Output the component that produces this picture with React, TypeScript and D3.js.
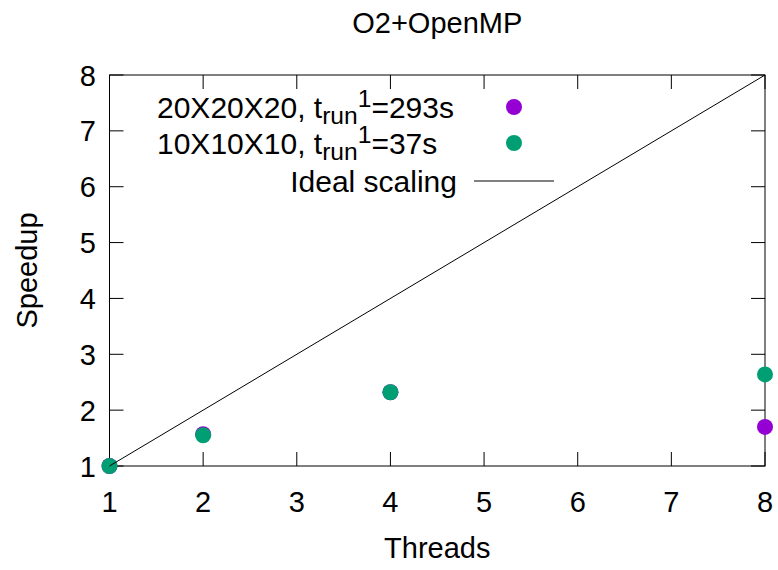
import React from "react";
import * as d3 from "d3";

const threads = [1, 2, 4, 8];
const speedup20 = [1.0, 1.57, 2.32, 1.7];
const speedup10 = [1.0, 1.55, 2.32, 2.64];
const xTicks = [1, 2, 3, 4, 5, 6, 7, 8];
const yTicks = [1, 2, 3, 4, 5, 6, 7, 8];
const idealLine = [1, 8];
const title = "O2+OpenMP";
const xLabel = "Threads";
const yLabel = "Speedup";

const W = 778, H = 570;
const m = { left: 109.5, right: 765, top: 75, bottom: 466 };
const FONT = "'Liberation Sans', Arial, sans-serif";

export default function App() {
  const x = d3.scaleLinear().domain([1, 8]).range([m.left, m.right]);
  const y = d3.scaleLinear().domain([1, 8]).range([m.bottom, m.top]);
  const line = d3.line<number>().x((d) => x(d)).y((d) => y(d));
  const tick = 14;
  const fs = 29;
  const lfs = 30;
  const series = [
    { vals: speedup20, color: "#9400d3", label: "20X20X20, ", tail: "=293s" },
    { vals: speedup10, color: "#009e73", label: "10X10X10, ", tail: "=37s" },
  ];
  const legendLeft = 157;
  const legendRight = 457;
  const legendY = [107, 143, 181];
  return (
    <svg width={W} height={H} style={{ position: "absolute", left: 0, top: 0, background: "#fff" }} fontFamily={FONT}>
      <text x={(m.left + m.right) / 2} y={33} fontSize={fs} textAnchor="middle">{title}</text>
      {xTicks.map((t) => (
        <g key={"x" + t}>
          <line x1={x(t)} x2={x(t)} y1={m.bottom} y2={m.bottom - tick} stroke="#000" strokeWidth={1} />
          <line x1={x(t)} x2={x(t)} y1={m.top} y2={m.top + tick} stroke="#000" strokeWidth={1} />
          <text x={x(t)} y={m.bottom + 46} fontSize={fs} textAnchor="middle">{t}</text>
        </g>
      ))}
      {yTicks.map((t) => (
        <g key={"y" + t}>
          <line x1={m.left} x2={m.left + tick} y1={y(t)} y2={y(t)} stroke="#000" strokeWidth={1} />
          <line x1={m.right} x2={m.right - tick} y1={y(t)} y2={y(t)} stroke="#000" strokeWidth={1} />
          <text x={96} y={y(t) + 10.5} fontSize={fs} textAnchor="end">{t}</text>
        </g>
      ))}
      <rect x={m.left} y={m.top} width={m.right - m.left} height={m.bottom - m.top} fill="none" stroke="#000" strokeWidth={1} />
      <text x={(m.left + m.right) / 2} y={558} fontSize={fs} textAnchor="middle">{xLabel}</text>
      <text transform={`translate(37,${(m.top + m.bottom) / 2}) rotate(-90)`} fontSize={fs} textAnchor="middle">{yLabel}</text>
      {series.map((s, i) => (
        <g key={"s" + i}>
          {s.vals.map((v, j) => (
            <circle key={j} cx={x(threads[j])} cy={y(v)} r={8} fill={s.color} />
          ))}
          <text x={legendLeft} y={legendY[i] + 10.5} fontSize={lfs} textAnchor="start">
            {s.label}t<tspan dy={6} fontSize={lfs * 0.82}>run</tspan>
            <tspan dy={-17} fontSize={lfs * 0.82}>1</tspan>
            <tspan dy={11}>{s.tail}</tspan>
          </text>
          <circle cx={514} cy={legendY[i]} r={8} fill={s.color} />
        </g>
      ))}
      <path d={line(idealLine) || ""} fill="none" stroke="#000" strokeWidth={1} />
      <text x={legendRight} y={legendY[2] + 10.5} fontSize={lfs} textAnchor="end">Ideal scaling</text>
      <line x1={474} x2={554} y1={legendY[2]} y2={legendY[2]} stroke="#000" strokeWidth={1} />
    </svg>
  );
}
